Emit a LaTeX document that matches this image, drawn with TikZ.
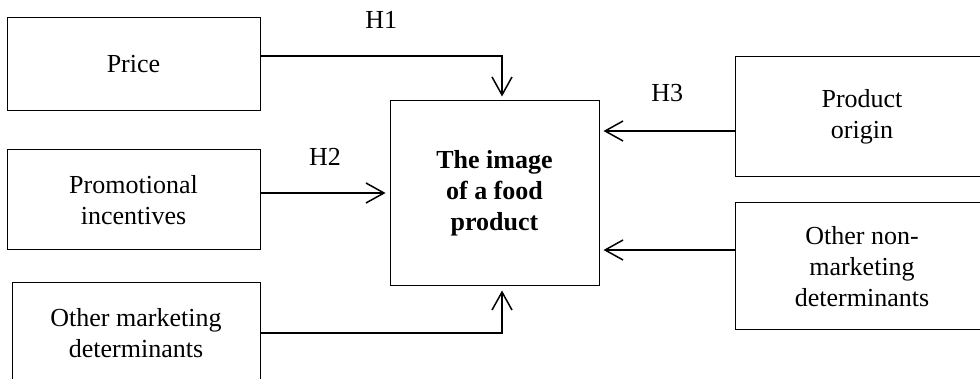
\documentclass[tikz,border=0pt]{standalone}
\usepackage{fontspec}
\setmainfont{Liberation Serif}
\usetikzlibrary{arrows.meta}

\begin{document}
\begin{tikzpicture}[x=0.5pt, y=-0.5pt]
    \tikzstyle{every node} = [font=\fontsize{13}{15.5}\selectfont]
    \tikzstyle{box} = [draw, line width=0.5pt, minimum width=126.5pt, align=center]
    \tikzstyle{arr} = [line width=0.75pt, -{Straight Barb[length=9pt, width=10pt, line width=0.75pt]}, shorten >=2pt]
    \useasboundingbox (0,0) rectangle (980,379);
    \node (price)  [box, minimum height=46.5pt] at (133.5, 64.5) {Price};
    \node (promo)  [box, minimum height=50pt] at (133.5, 200) {Promotional\\incentives};
    \node (othmkt) [box, minimum height=50pt, minimum width=124pt] at (136, 333) {Other marketing\\determinants};
    \node (img)    [box, minimum height=92.5pt, minimum width=104.5pt, font=\fontsize{13}{15.5}\selectfont\bfseries] at (494.5, 193.5) {The image\\of a food\\product};
    \node (origin) [box, minimum height=60pt] at (862, 117) {Product\\origin};
    \node (nonmkt) [box, minimum height=63.5pt] at (862, 266.5) {Other non-\\marketing\\determinants};
    \draw [arr] ([shift={(0,-8.5)}]price.east) -| ([shift={(7.5,0)}]img.north) node[pos=.25, above=10pt] {H1};
    \draw [arr] ([shift={(0,-7)}]promo.east) -- (img.west |- 0,193) node[pos=.5, above=10pt] {H2};
    \draw [arr] ([shift={(0,14)}]origin.west) -- (img.east |- 0,131) node[pos=.5, above=11pt] {H3};
    \draw [arr] ([shift={(0,-16.5)}]nonmkt.west) -- (img.east |- 0,250);
    \draw [arr] (othmkt.east) -| ([shift={(7.5,0)}]img.south);
\end{tikzpicture}
\end{document}
